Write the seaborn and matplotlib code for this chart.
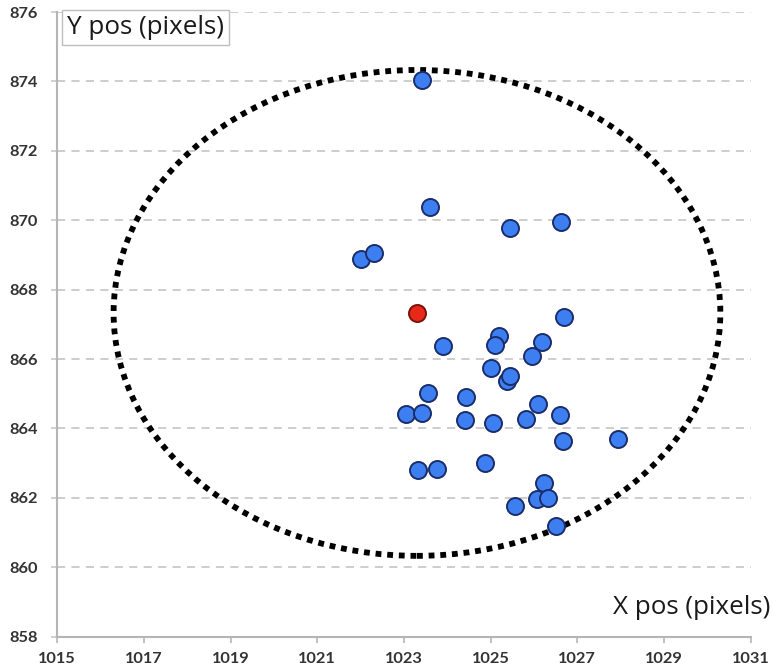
import matplotlib
matplotlib.use("Agg")
import matplotlib.pyplot as plt
from matplotlib.patches import Ellipse
import seaborn as sns
import pandas as pd

# Measured spot positions (pixels)
x_pos = [1023.41, 1023.60, 1025.44, 1026.62, 1022.01, 1022.31, 1026.70,
         1023.91, 1025.20, 1025.10, 1026.18, 1025.96, 1025.01, 1025.37,
         1025.45, 1023.55, 1024.43, 1023.05, 1023.42, 1024.41, 1025.06,
         1025.81, 1026.10, 1026.60, 1026.66, 1027.93, 1023.32, 1023.77,
         1024.87, 1026.23, 1026.06, 1026.32, 1025.56, 1026.50]
y_pos = [874.04, 870.38, 869.77, 869.94, 868.87, 869.06, 867.20,
         866.37, 866.66, 866.40, 866.49, 866.09, 865.74, 865.38,
         865.51, 865.03, 864.91, 864.43, 864.46, 864.24, 864.17,
         864.28, 864.70, 864.38, 863.64, 863.71, 862.80, 862.83,
         863.01, 862.43, 861.97, 862.01, 861.77, 861.19]

# Reference (mean) position and tolerance radius
ref_x = [1023.30]
ref_y = [867.33]
radius = 7.0

x_ticks = [1015, 1017, 1019, 1021, 1023, 1025, 1027, 1029, 1031]
y_ticks = [858, 860, 862, 864, 866, 868, 870, 872, 874, 876]

spots = pd.DataFrame({"x": x_pos, "y": y_pos})
ref = pd.DataFrame({"x": ref_x, "y": ref_y})

sns.set_theme(style="white")
plt.rcParams["font.family"] = ["Lato", "DejaVu Sans"]

fig = plt.figure(figsize=(7.73, 6.72), dpi=100)
ax = fig.add_axes([0.0741, 0.0525, 0.8970, 0.9296])

ax.set_xlim(1015, 1031)
ax.set_ylim(858, 876)

# Horizontal dashed grid
for yv in y_ticks[1:]:
    ax.axhline(yv, color="#c9c9c9", lw=1.3, dashes=(4.5, 3.5), zorder=0)

# Tolerance circle around the reference position
circle = Ellipse((ref_x[0], ref_y[0]), width=2 * radius, height=2 * radius,
                 fill=False, edgecolor="black", lw=4.2,
                 linestyle=(0, (1.0, 1.0)), zorder=3)
circle.set_capstyle("butt")
ax.add_patch(circle)

sns.scatterplot(data=spots, x="x", y="y", ax=ax, s=150, color="#3d7ff0",
                edgecolor="#1b2d6b", linewidth=1.4, zorder=4)
sns.scatterplot(data=ref, x="x", y="y", ax=ax, s=150, color="#e8281a",
                edgecolor="#7a1208", linewidth=1.4, zorder=5)

ax.set_xticks(x_ticks)
ax.set_yticks(y_ticks)
ax.set_xticklabels([str(v) for v in x_ticks])
ax.set_yticklabels([str(v) for v in y_ticks])
ax.set_xlabel("")
ax.set_ylabel("")

for side in ("top", "right"):
    ax.spines[side].set_visible(False)
for side in ("left", "bottom"):
    ax.spines[side].set_color("#b5b5b5")
    ax.spines[side].set_linewidth(1.5)

ax.tick_params(axis="x", direction="out", length=4, width=1.2, color="#b5b5b5",
               pad=7, labelsize=11.8, labelcolor="#333333", bottom=True)
ax.tick_params(axis="y", direction="out", length=4, width=1.2, color="#c9c9c9",
               pad=10, labelsize=11.8, labelcolor="#333333", left=True)
for lbl in ax.get_xticklabels() + ax.get_yticklabels():
    lbl.set_fontweight("bold")

# Axis titles
title_font = ["Open Sans", "DejaVu Sans"]
fig.text(0.0865, 0.9595, "Y pos (pixels)", fontsize=18.7, family=title_font,
         color="#1a1a1a", ha="left", va="center",
         bbox=dict(boxstyle="square,pad=0.2", facecolor="white",
                   edgecolor="#bdbdbd", linewidth=1.0))
fig.text(0.996, 0.0965, "X pos (pixels)", fontsize=18.7, family=title_font,
         color="#1a1a1a", ha="right", va="center")

fig.savefig("out.png", dpi=100)
